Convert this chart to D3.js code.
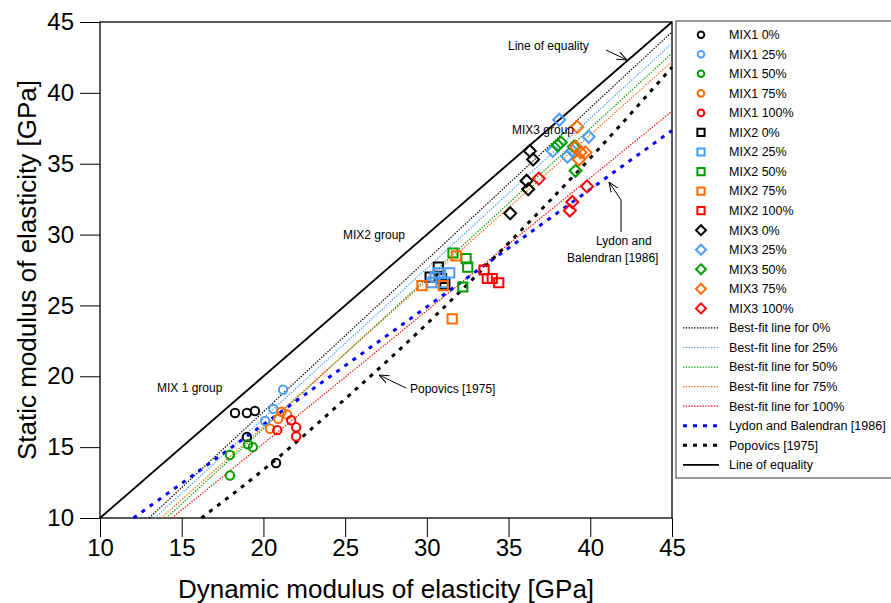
<!DOCTYPE html>
<html>
<head>
<meta charset="utf-8">
<script src="https://cdn.jsdelivr.net/npm/d3@7"></script>
<style>
  html, body { margin: 0; padding: 0; background: #fff; }
  svg { display: block; font-family: "Liberation Sans", Arial, sans-serif; }
</style>
</head>
<body>
<div id="chart"></div>
<script>
// ---- data ----
const mix1_0   = [[18.26,17.41],[18.99,17.41],[19.48,17.55],[18.99,15.72],[20.77,13.88]];
const mix1_25  = [[21.2,19.05],[20.6,17.7],[20.1,16.85]];
const mix1_50  = [[17.95,14.45],[17.95,13.0],[19.05,15.2],[19.35,15.0]];
const mix1_75  = [[20.4,16.3],[21.1,17.5],[21.45,17.3],[20.9,17.0]];
const mix1_100 = [[20.85,16.2],[21.7,16.9],[22.0,16.4],[22.0,15.75]];

const mix2_0   = [[30.7,27.7],[30.2,27.0],[30.9,26.9],[31.1,26.5]];
const mix2_25  = [[30.5,27.0],[30.7,27.3],[31.4,27.3],[30.3,26.6],[31.0,26.6]];
const mix2_50  = [[31.6,28.7],[32.4,28.3],[32.5,27.7],[32.2,26.3]];
const mix2_75  = [[29.7,26.4],[31.0,26.4],[31.8,28.5],[31.55,24.05]];
const mix2_100 = [[33.5,27.5],[33.7,26.9],[34.0,26.9],[34.4,26.6]];

const mix3_0   = [[36.3,35.9],[36.5,35.3],[36.1,33.8],[36.2,33.2],[35.1,31.5]];
const mix3_25  = [[38.1,38.1],[37.7,35.9],[38.9,35.9],[39.9,36.9],[38.6,35.5]];
const mix3_50  = [[38.0,36.3],[38.2,36.5],[39.1,34.5],[39.0,36.2]];
const mix3_75  = [[39.2,37.6],[39.1,36.2],[39.4,35.8],[39.3,35.3],[39.7,35.8]];
const mix3_100 = [[36.85,33.95],[39.8,33.4],[38.9,32.3],[38.75,31.7]];

// best-fit lines (end points)
const fit_0   = [[13.0,10],[45,44.3]];
const fit_25  = [[13.35,10],[45,43.5]];
const fit_50  = [[14.05,10],[45,42.8]];
const fit_75  = [[13.75,10],[45,42.2]];
const fit_100 = [[14.4,10],[45,38.7]];
const lydon    = [[12.05,10],[45,37.35]];
const popovics = [[16.2,10],[20,13.4],[25,18.4],[30,23.7],[35,29.4],[40,35.4],[45,41.8]];
const equality = [[10,10],[45,45]];

const xTicks = [10,15,20,25,30,35,40,45];
const yTicks = [10,15,20,25,30,35,40,45];

const colors = { p0: '#000000', p25: '#4a9eff', p50: '#009e00', p75: '#ff6a00', p100: '#ff0000' };

const series = [
  { name: 'MIX1 0%',   data: mix1_0,   shape: 'circle',  color: colors.p0 },
  { name: 'MIX1 25%',  data: mix1_25,  shape: 'circle',  color: colors.p25 },
  { name: 'MIX1 50%',  data: mix1_50,  shape: 'circle',  color: colors.p50 },
  { name: 'MIX1 75%',  data: mix1_75,  shape: 'circle',  color: colors.p75 },
  { name: 'MIX1 100%', data: mix1_100, shape: 'circle',  color: colors.p100 },
  { name: 'MIX2 0%',   data: mix2_0,   shape: 'square',  color: colors.p0 },
  { name: 'MIX2 25%',  data: mix2_25,  shape: 'square',  color: colors.p25 },
  { name: 'MIX2 50%',  data: mix2_50,  shape: 'square',  color: colors.p50 },
  { name: 'MIX2 75%',  data: mix2_75,  shape: 'square',  color: colors.p75 },
  { name: 'MIX2 100%', data: mix2_100, shape: 'square',  color: colors.p100 },
  { name: 'MIX3 0%',   data: mix3_0,   shape: 'diamond', color: colors.p0 },
  { name: 'MIX3 25%',  data: mix3_25,  shape: 'diamond', color: colors.p25 },
  { name: 'MIX3 50%',  data: mix3_50,  shape: 'diamond', color: colors.p50 },
  { name: 'MIX3 75%',  data: mix3_75,  shape: 'diamond', color: colors.p75 },
  { name: 'MIX3 100%', data: mix3_100, shape: 'diamond', color: colors.p100 }
];

const lines = [
  { name: 'Best-fit line for 0%',   data: fit_0,   color: colors.p0,   width: 1.2, dash: '1.4,1.4' },
  { name: 'Best-fit line for 25%',  data: fit_25,  color: colors.p25,  width: 1.2, dash: '1.4,1.4' },
  { name: 'Best-fit line for 50%',  data: fit_50,  color: colors.p50,  width: 1.2, dash: '1.4,1.4' },
  { name: 'Best-fit line for 75%',  data: fit_75,  color: colors.p75,  width: 1.2, dash: '1.4,1.4' },
  { name: 'Best-fit line for 100%', data: fit_100, color: colors.p100, width: 1.2, dash: '1.4,1.4' },
  { name: 'Lydon and Balendran [1986]', data: lydon, color: '#0000ff', width: 3, dash: '4,6' },
  { name: 'Popovics [1975]', data: popovics, color: '#000000', width: 3, dash: '4,6' },
  { name: 'Line of equality', data: equality, color: '#000000', width: 1.8, dash: null }
];

// ---- layout ----
const W = 891, H = 603;
const plot = { left: 100, right: 672, top: 22, bottom: 518 };

const svg = d3.select('#chart').append('svg')
  .attr('width', W).attr('height', H);

const x = d3.scaleLinear().domain([10, 45]).range([plot.left, plot.right]);
const y = d3.scaleLinear().domain([10, 45]).range([plot.bottom, plot.top]);

// arrow marker
svg.append('defs').append('marker')
  .attr('id', 'arrow')
  .attr('viewBox', '0 0 10 10')
  .attr('refX', 10).attr('refY', 5)
  .attr('markerWidth', 10).attr('markerHeight', 10)
  .attr('markerUnits', 'userSpaceOnUse')
  .attr('orient', 'auto')
  .append('path')
  .attr('d', 'M0,1 L10,5 L0,9')
  .attr('fill', 'none').attr('stroke', '#000').attr('stroke-width', 1);

// ---- axes ----
const minor = d3.range(10, 46, 1);

const xAxisG = svg.append('g').attr('transform', `translate(0,${plot.bottom})`);
xAxisG.call(d3.axisBottom(x).tickValues(minor).tickSize(10).tickFormat(''));
xAxisG.call(d3.axisBottom(x).tickValues(xTicks).tickSize(19).tickPadding(2).tickFormat(d3.format('d')));
xAxisG.selectAll('path.domain').remove();
xAxisG.selectAll('line').attr('stroke', '#000').attr('stroke-width', 1);
xAxisG.selectAll('text').attr('font-size', 24).attr('fill', '#000')
  .attr('font-family', '"Liberation Sans", Arial, sans-serif');

const yAxisG = svg.append('g').attr('transform', `translate(${plot.left},0)`);
yAxisG.call(d3.axisLeft(y).tickValues(minor).tickSize(10).tickFormat(''));
yAxisG.call(d3.axisLeft(y).tickValues(yTicks).tickSize(20).tickPadding(6).tickFormat(d3.format('d')));
yAxisG.selectAll('path.domain').remove();
yAxisG.selectAll('line').attr('stroke', '#000').attr('stroke-width', 1);
yAxisG.selectAll('text').attr('font-size', 24).attr('fill', '#000')
  .attr('font-family', '"Liberation Sans", Arial, sans-serif');

// frame
svg.append('rect')
  .attr('x', plot.left).attr('y', plot.top)
  .attr('width', plot.right - plot.left).attr('height', plot.bottom - plot.top)
  .attr('fill', 'none').attr('stroke', '#000').attr('stroke-width', 1.3);

// axis titles
svg.append('text')
  .attr('x', (plot.left + plot.right) / 2).attr('y', 598)
  .attr('text-anchor', 'middle').attr('font-size', 26)
  .text('Dynamic modulus of elasticity [GPa]');

svg.append('text')
  .attr('transform', `translate(36,${(plot.top + plot.bottom) / 2}) rotate(-90)`)
  .attr('text-anchor', 'middle').attr('font-size', 26)
  .text('Static modulus of elasticity [GPa]');

// ---- lines ----
const lineGen = d3.line().x(d => x(d[0])).y(d => y(d[1]));
const popovicsGen = d3.line().x(d => x(d[0])).y(d => y(d[1])).curve(d3.curveMonotoneX);

const plotG = svg.append('g');
plotG.selectAll('path.ref')
  .data(lines)
  .join('path')
  .attr('class', 'ref')
  .attr('d', d => d.data.length > 2 ? popovicsGen(d.data) : lineGen(d.data))
  .attr('fill', 'none')
  .attr('stroke', d => d.color)
  .attr('stroke-width', d => d.width)
  .attr('stroke-dasharray', d => d.dash);

// ---- markers ----
function shapePath(shape, s) {
  if (shape === 'circle') {
    return `M${-s},0 A${s},${s} 0 1,0 ${s},0 A${s},${s} 0 1,0 ${-s},0 Z`;
  }
  if (shape === 'square') {
    return `M${-s},${-s} L${s},${-s} L${s},${s} L${-s},${s} Z`;
  }
  return `M0,${-s} L${s},0 L0,${s} L${-s},0 Z`;
}
const plotSize = { circle: 4.2, square: 4.6, diamond: 6 };
const legendSize = { circle: 3.3, square: 3.6, diamond: 5 };

series.forEach(s => {
  plotG.append('g').selectAll('path')
    .data(s.data)
    .join('path')
    .attr('transform', d => `translate(${x(d[0])},${y(d[1])})`)
    .attr('d', shapePath(s.shape, plotSize[s.shape]))
    .attr('fill', 'none')
    .attr('stroke', s.color)
    .attr('stroke-width', 2);
});

// ---- annotations ----
const ann = svg.append('g').attr('font-size', 12).attr('fill', '#000');
ann.append('text').attr('x', 508).attr('y', 50).text('Line of equality');
ann.append('text').attr('x', 512).attr('y', 134).text('MIX3 group');
ann.append('text').attr('x', 343).attr('y', 239).text('MIX2 group');
ann.append('text').attr('x', 157).attr('y', 392).text('MIX 1 group');
ann.append('text').attr('x', 410).attr('y', 393).text('Popovics [1975]');
ann.append('text').attr('x', 596).attr('y', 245).text('Lydon and');
ann.append('text').attr('x', 567).attr('y', 262).text('Balendran [1986]');

const arrowG = svg.append('g').attr('fill', 'none').attr('stroke', '#000').attr('stroke-width', 1);
arrowG.append('path').attr('d', 'M606,50 L627,60').attr('marker-end', 'url(#arrow)');
arrowG.append('path').attr('d', 'M406,388 L379,375').attr('marker-end', 'url(#arrow)');
arrowG.append('path').attr('d', 'M621,232 L621,200 L609,182').attr('marker-end', 'url(#arrow)');

// ---- legend ----
const leg = { x: 676, y: 21, w: 230, h: 457, row0: 34.7, step: 19.55 };
const legG = svg.append('g');
legG.append('rect')
  .attr('x', leg.x).attr('y', leg.y).attr('width', leg.w).attr('height', leg.h)
  .attr('fill', '#fff').attr('stroke', '#555').attr('stroke-width', 1.2);

const legendItems = series.map(s => ({ type: 'marker', ...s }))
  .concat(lines.map(l => ({ type: 'line', ...l })));

const rows = legG.selectAll('g.row')
  .data(legendItems)
  .join('g')
  .attr('class', 'row')
  .attr('transform', (d, i) => `translate(0,${leg.row0 + i * leg.step})`);

rows.filter(d => d.type === 'marker').append('path')
  .attr('transform', 'translate(701,0)')
  .attr('d', d => shapePath(d.shape, legendSize[d.shape]))
  .attr('fill', 'none').attr('stroke', d => d.color).attr('stroke-width', 2);

rows.filter(d => d.type === 'line').append('line')
  .attr('x1', 683).attr('x2', 719).attr('y1', 0).attr('y2', 0)
  .attr('stroke', d => d.color)
  .attr('stroke-width', d => d.width)
  .attr('stroke-dasharray', d => d.dash);

rows.append('text')
  .attr('x', 729).attr('y', 0).attr('dy', '0.35em')
  .attr('font-size', 12.5)
  .text(d => d.name);
</script>
</body>
</html>
